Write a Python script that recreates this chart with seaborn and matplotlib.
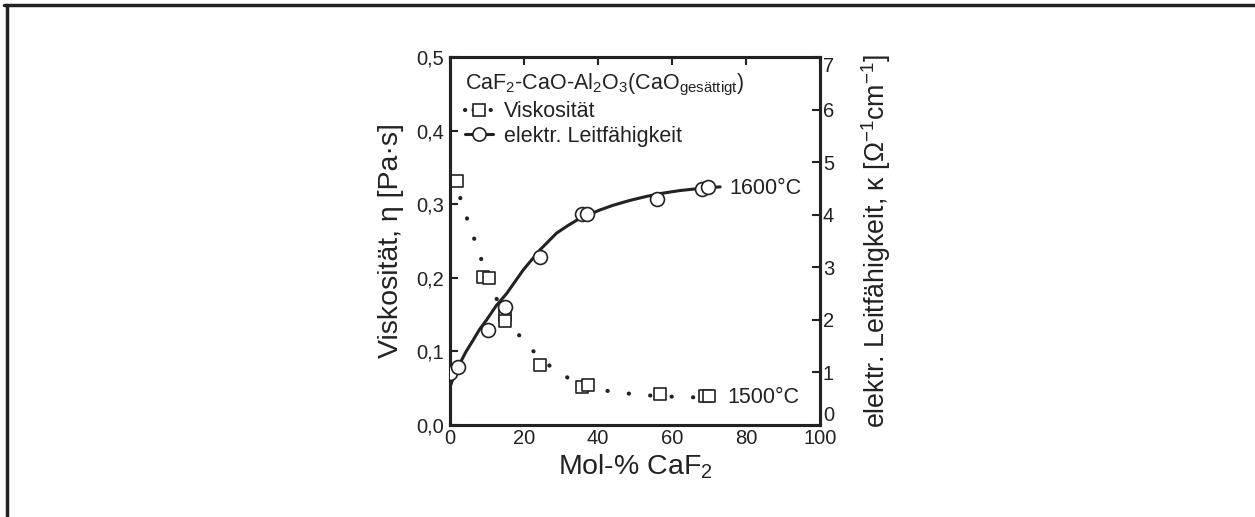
import numpy as np
import pandas as pd
import matplotlib
matplotlib.use("Agg")
import matplotlib.pyplot as plt
import seaborn as sns
from matplotlib.lines import Line2D

# ---------------- data ----------------
visc_x = [1.8, 9.0, 10.6, 14.9, 14.9, 24.3, 35.6, 37.4, 56.8, 68.9, 70.0]
visc_y = [0.331, 0.201, 0.200, 0.150, 0.141, 0.081, 0.052, 0.054, 0.042, 0.039, 0.040]

visc_fit_x = [0.0, 1.5, 3.4, 5.4, 7.4, 9.2, 11.3, 13.8, 16.7, 20.5, 24.5, 29.0, 34.0,
              39.6, 45.8, 51.5, 57.0, 63.0, 70.0]
visc_fit_y = [0.365, 0.33, 0.298, 0.269, 0.241, 0.214, 0.186, 0.158, 0.134, 0.111,
              0.090, 0.0725, 0.058, 0.0485, 0.044, 0.041, 0.039, 0.038, 0.037]

cond_x = [0.0, 2.2, 10.4, 14.9, 24.3, 35.6, 36.9, 55.9, 68.0, 69.8]
cond_y = [0.98, 1.11, 1.81, 2.25, 3.20, 4.01, 4.01, 4.29, 4.48, 4.52]

cond_fit_x = [0.0, 1.0, 2.25, 4.2, 6.3, 8.0, 9.9, 12.5, 15.3, 19.8, 24.3, 28.8, 32.0,
              35.1, 40.5, 44.1, 48.5, 53.2, 57.5, 62.2, 67.5, 73.0]
cond_fit_y = [0.72, 0.92, 1.11, 1.38, 1.62, 1.82, 2.0, 2.27, 2.5, 2.95, 3.33, 3.65, 3.80,
              3.93, 4.09, 4.18, 4.27, 4.35, 4.41, 4.46, 4.50, 4.53]

x_ticks = [0, 20, 40, 60, 80, 100]
y_left_ticks = [0.0, 0.1, 0.2, 0.3, 0.4, 0.5]
y_left_labels = ["0,0", "0,1", "0,2", "0,3", "0,4", "0,5"]
y_right_ticks = [0, 1, 2, 3, 4, 5, 6, 7]

# ---------------- style ----------------
sns.set_style("white")
plt.rcParams["font.family"] = ["Liberation Sans", "DejaVu Sans"]
plt.rcParams["mathtext.fontset"] = "custom"
plt.rcParams["mathtext.rm"] = "Liberation Sans"
plt.rcParams["mathtext.it"] = "Liberation Sans:italic"
plt.rcParams["mathtext.bf"] = "Liberation Sans:bold"

ink = "#222222"
fs_tick = 14.5
fs_text = 15.5
fs_label = 20.5

fig = plt.figure(figsize=(12.55, 5.17), dpi=100)
ax = fig.add_axes([450 / 1255, 1 - 425 / 517, 370 / 1255, 368 / 517])
ax2 = ax.twinx()

# viscosity: dotted fit + squares
visc_fit = pd.DataFrame({"x": visc_fit_x, "y": visc_fit_y})
sns.lineplot(data=visc_fit, x="x", y="y", ax=ax, sort=False, estimator=None,
             color=ink, linewidth=3.0)
ln = ax.lines[-1]
ln.set_linestyle((0, (0.05, 5.1)))
ln.set_dash_capstyle("round")

visc = pd.DataFrame({"x": visc_x, "y": visc_y})
sns.scatterplot(data=visc, x="x", y="y", ax=ax, marker="s", s=78,
                facecolor="white", edgecolor=ink, linewidth=1.2, zorder=5)

# conductivity: solid fit + circles
cond_fit = pd.DataFrame({"x": cond_fit_x, "y": cond_fit_y})
sns.lineplot(data=cond_fit, x="x", y="y", ax=ax2, sort=False, estimator=None,
             color=ink, linewidth=2.2)
cond = pd.DataFrame({"x": cond_x, "y": cond_y})
sns.scatterplot(data=cond, x="x", y="y", ax=ax2, marker="o", s=100,
                facecolor="white", edgecolor=ink, linewidth=1.2, zorder=5)

# axes limits / ticks
ax.set_xlim(0, 100)
ax.set_ylim(0, 0.5)
ax2.set_ylim(0, 7)
ax.set_xticks(x_ticks)
ax.set_yticks(y_left_ticks)
ax.set_yticklabels(y_left_labels)
ax2.set_yticks(y_right_ticks)

ax.tick_params(axis="both", direction="in", length=6, width=1.5, labelsize=fs_tick,
               colors=ink, top=True, right=False, pad=4)
ax.tick_params(axis="x", pad=3)
ax2.tick_params(axis="y", direction="in", length=6, width=1.5, labelsize=fs_tick,
                colors=ink, pad=2)
rlabels = ax2.get_yticklabels()
rlabels[0].set_va("bottom")
rlabels[-1].set_va("top")

for a in (ax, ax2):
    for s in a.spines.values():
        s.set_linewidth(2.2)
        s.set_color(ink)

ax.set_xlabel("Mol-% CaF$_2$", fontsize=fs_label, color=ink, labelpad=3)
ax.set_ylabel("Viskosität, η [Pa·s]", fontsize=fs_label, color=ink, labelpad=9)
ax2.set_ylabel("elektr. Leitfähigkeit, κ [Ω$^{-1}$cm$^{-1}$]", fontsize=19.3,
               color=ink, labelpad=18)

# annotations
ax2.text(75.5, 4.5, "1600°C", fontsize=fs_text, color=ink, va="center", ha="left")
ax.text(75.0, 0.038, "1500°C", fontsize=fs_text, color=ink, va="center", ha="left")

# legend
h_visc = Line2D([], [], color=ink, linewidth=3.0, linestyle=(0, (0.05, 2.0)),
                dash_capstyle="round", marker="s", markersize=8.5,
                markerfacecolor="white", markeredgecolor=ink, markeredgewidth=1.2)
h_cond = Line2D([], [], color=ink, linewidth=2.2, linestyle="-",
                marker="o", markersize=9.5,
                markerfacecolor="white", markeredgecolor=ink, markeredgewidth=1.2)
leg = ax2.legend([h_visc, h_cond], ["Viskosität", "elektr. Leitfähigkeit"],
                 title="CaF$_2$-CaO-Al$_2$O$_3$(CaO$_{\\mathrm{gesättigt}}$)",
                 loc="upper left", frameon=False, alignment="left",
                 fontsize=fs_text, title_fontsize=fs_text, handlelength=1.3,
                 handletextpad=0.5, labelspacing=0.15, borderaxespad=0.45,
                 borderpad=0.25, labelcolor=ink)
leg.get_title().set_color(ink)

# outer frame (top and left lines)
fig.add_artist(Line2D([4 / 1255, 1], [1 - 5 / 517, 1 - 5 / 517],
                      transform=fig.transFigure, color=ink, linewidth=2.5))
fig.add_artist(Line2D([7 / 1255, 7 / 1255], [0, 1 - 5 / 517],
                      transform=fig.transFigure, color=ink, linewidth=2.5))

fig.savefig("out.png", dpi=100, facecolor="white")
